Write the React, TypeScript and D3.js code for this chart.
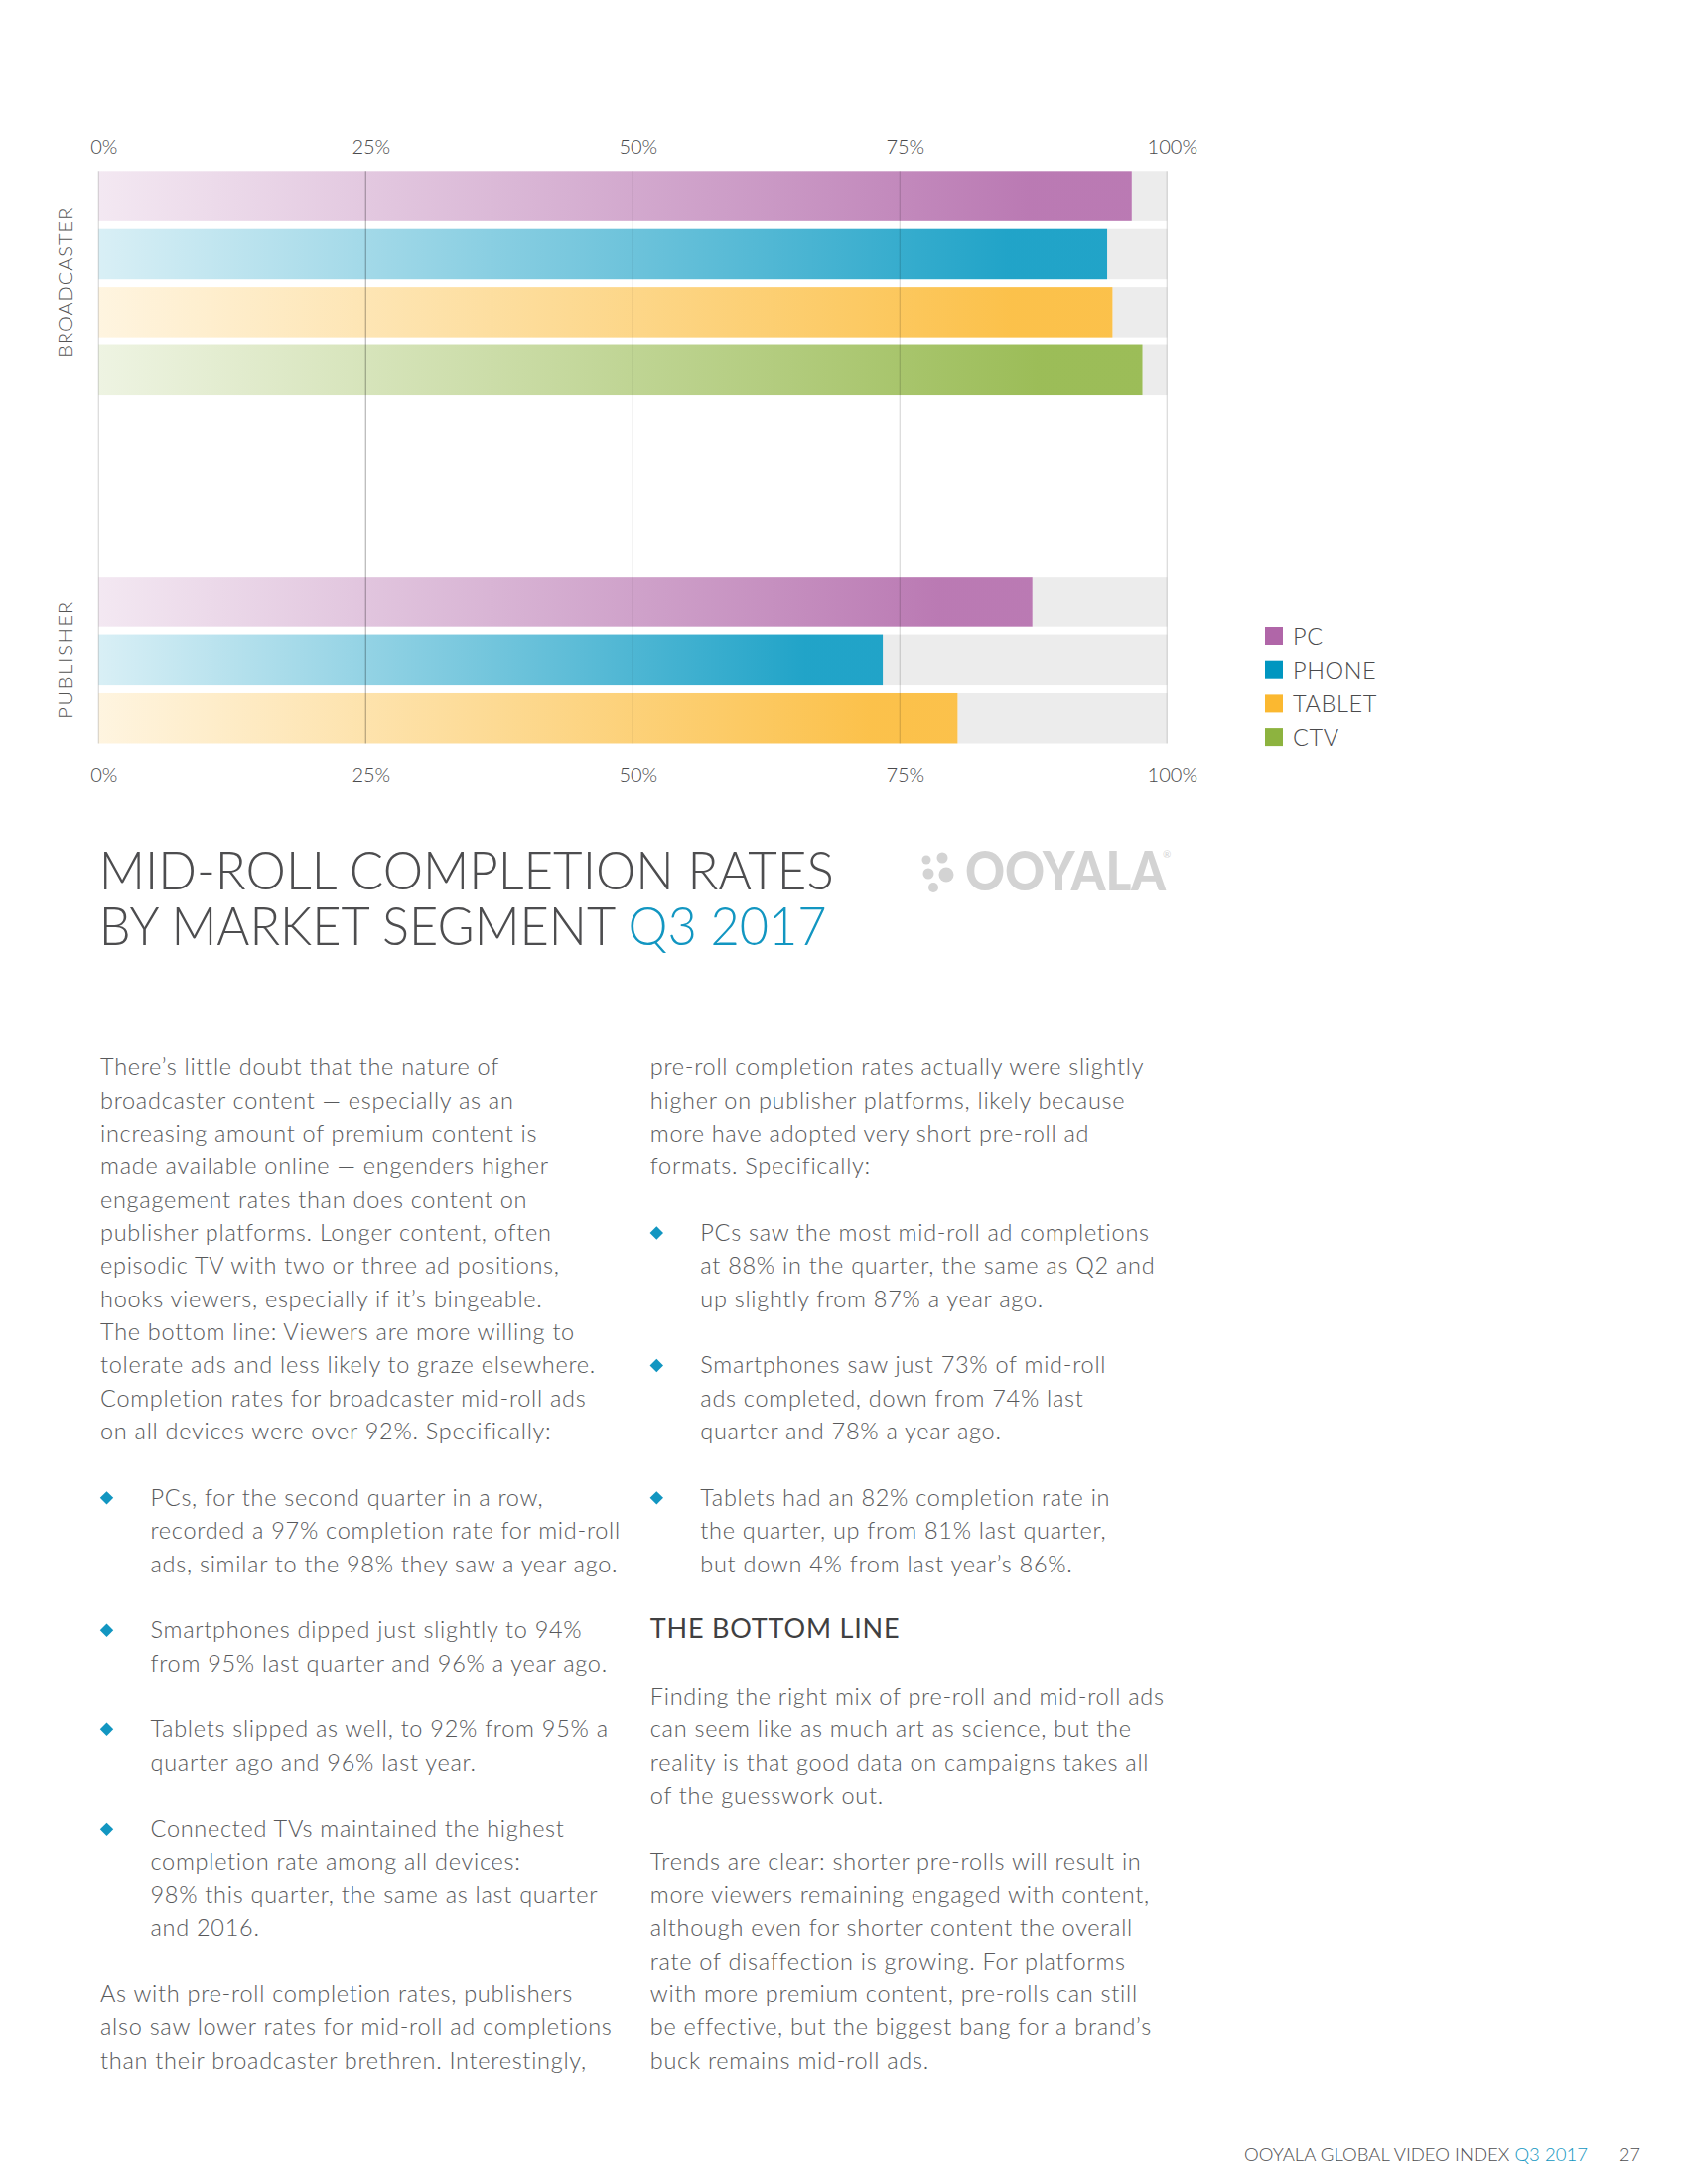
import { useEffect, useRef } from "react";
import * as d3 from "d3";

// ---- chart data ----
const devices = ["PC", "PHONE", "TABLET", "CTV"];
const deviceColors = ["#b066a8", "#0096c0", "#fbb830", "#8db33f"];
const segments = ["BROADCASTER", "PUBLISHER"];
const broadcasterRates = [96.7, 94.4, 94.9, 97.7];
const publisherRates = [87.4, 73.4, 80.4];
const tickValues = [0, 25, 50, 75, 100];

// ---- page text ----
const titleLine1 = "MID-ROLL COMPLETION RATES";
const titleLine2 = "BY MARKET SEGMENT ";
const titleAccent = "Q3 2017";
const footerText = "OOYALA GLOBAL VIDEO INDEX ";
const footerAccent = "Q3 2017";
const pageNumber = "27";

// kind: p = paragraph, b = bullet, i = bullet continuation, h = heading, "" = blank
const leftColumn: [string, string][] = [
  ["p", "There’s little doubt that the nature of"],
  ["p", "broadcaster content — especially as an"],
  ["p", "increasing amount of premium content is"],
  ["p", "made available online — engenders higher"],
  ["p", "engagement rates than does content on"],
  ["p", "publisher platforms. Longer content, often"],
  ["p", "episodic TV with two or three ad positions,"],
  ["p", "hooks viewers, especially if it’s bingeable."],
  ["p", "The bottom line: Viewers are more willing to"],
  ["p", "tolerate ads and less likely to graze elsewhere."],
  ["p", "Completion rates for broadcaster mid-roll ads"],
  ["p", "on all devices were over 92%. Specifically:"],
  ["", ""],
  ["b", "PCs, for the second quarter in a row,"],
  ["i", "recorded a 97% completion rate for mid-roll"],
  ["i", "ads, similar to the 98% they saw a year ago."],
  ["", ""],
  ["b", "Smartphones dipped just slightly to 94%"],
  ["i", "from 95% last quarter and 96% a year ago."],
  ["", ""],
  ["b", "Tablets slipped as well, to 92% from 95% a"],
  ["i", "quarter ago and 96% last year."],
  ["", ""],
  ["b", "Connected TVs maintained the highest"],
  ["i", "completion rate among all devices:"],
  ["i", "98% this quarter, the same as last quarter"],
  ["i", "and 2016."],
  ["", ""],
  ["p", "As with pre-roll completion rates, publishers"],
  ["p", "also saw lower rates for mid-roll ad completions"],
  ["p", "than their broadcaster brethren. Interestingly,"],
];

const rightColumn: [string, string][] = [
  ["p", "pre-roll completion rates actually were slightly"],
  ["p", "higher on publisher platforms, likely because"],
  ["p", "more have adopted very short pre-roll ad"],
  ["p", "formats. Specifically:"],
  ["", ""],
  ["b", "PCs saw the most mid-roll ad completions"],
  ["i", "at 88% in the quarter, the same as Q2 and"],
  ["i", "up slightly from 87% a year ago."],
  ["", ""],
  ["b", "Smartphones saw just 73% of mid-roll"],
  ["i", "ads completed, down from 74% last"],
  ["i", "quarter and 78% a year ago."],
  ["", ""],
  ["b", "Tablets had an 82% completion rate in"],
  ["i", "the quarter, up from 81% last quarter,"],
  ["i", "but down 4% from last year’s 86%."],
  ["", ""],
  ["h", "THE BOTTOM LINE"],
  ["", ""],
  ["p", "Finding the right mix of pre-roll and mid-roll ads"],
  ["p", "can seem like as much art as science, but the"],
  ["p", "reality is that good data on campaigns takes all"],
  ["p", "of the guesswork out."],
  ["", ""],
  ["p", "Trends are clear: shorter pre-rolls will result in"],
  ["p", "more viewers remaining engaged with content,"],
  ["p", "although even for shorter content the overall"],
  ["p", "rate of disaffection is growing.  For platforms"],
  ["p", "with more premium content, pre-rolls can still"],
  ["p", "be effective, but the biggest bang for a brand’s"],
  ["p", "buck remains mid-roll ads."],
];

export default function App() {
  const svgRef = useRef<SVGSVGElement>(null);

  useEffect(() => {
    if (!svgRef.current) return;
    const svg = d3.select(svgRef.current);
    svg.selectAll("*").remove();

    const font = "Lato, 'Open Sans', sans-serif";
    const textColor = "#58595b";
    const darkText = "#4d4d4f";
    const blue = "#1296c1";

    // Scales
    const x = d3.scaleLinear().domain([0, 100]).range([99.3, 1175.3]);
    const y = d3
      .scaleBand<number>()
      .domain(d3.range(10))
      .range([172.3, 748.5])
      .paddingInner(0.135);
    const segmentStart = [0, 7]; // first slot of each segment

    const rows = [
      ...broadcasterRates.map((v, i) => ({ device: i, value: v, slot: segmentStart[0] + i })),
      ...publisherRates.map((v, i) => ({ device: i, value: v, slot: segmentStart[1] + i })),
    ];

    // Gradients, light at the left and full at the bar end
    const defs = svg.append("defs");
    deviceColors.forEach((c, i) => {
      const g = defs
        .append("linearGradient")
        .attr("id", `bar-grad-${i}`)
        .attr("x1", 0)
        .attr("x2", 1)
        .attr("y1", 0)
        .attr("y2", 0);
      g.append("stop").attr("offset", 0).attr("stop-color", c).attr("stop-opacity", 0.15);
      g.append("stop").attr("offset", 0.9).attr("stop-color", c).attr("stop-opacity", 0.87);
      g.append("stop").attr("offset", 1).attr("stop-color", c).attr("stop-opacity", 0.87);
    });

    // Grey remainder track
    svg
      .append("g")
      .selectAll("rect")
      .data(rows)
      .join("rect")
      .attr("x", d => x(d.value))
      .attr("width", d => x(100) - x(d.value))
      .attr("y", d => y(d.slot)!)
      .attr("height", y.bandwidth())
      .attr("fill", "#ececec");

    // Bars
    svg
      .append("g")
      .selectAll("rect")
      .data(rows)
      .join("rect")
      .attr("x", x(0))
      .attr("width", d => x(d.value) - x(0))
      .attr("y", d => y(d.slot)!)
      .attr("height", y.bandwidth())
      .attr("fill", d => `url(#bar-grad-${d.device})`);

    // Grid lines over the bars
    svg
      .append("g")
      .selectAll("line")
      .data(tickValues)
      .join("line")
      .attr("x1", d => x(d))
      .attr("x2", d => x(d))
      .attr("y1", y(0)!)
      .attr("y2", y(9)! + y.bandwidth())
      .attr("stroke", "#000")
      .attr("stroke-opacity", d => (d === 25 ? 0.27 : 0.14))
      .attr("stroke-width", 1.3);

    // Top and bottom tick labels
    [155.3, 788.3].forEach(base => {
      const axis = svg
        .append("g")
        .attr("transform", `translate(0,${base})`)
        .call(
          d3
            .axisTop(x)
            .tickValues(tickValues)
            .tickSize(0)
            .tickPadding(0)
            .tickFormat(d => `${d}%`)
        );
      axis.select(".domain").remove();
      axis
        .selectAll("text")
        .attr("dx", 5)
        .attr("dy", 0)
        .attr("font-family", font)
        .attr("font-weight", 300)
        .attr("font-size", 20)
        .attr("fill", "#4a4a4c");
    });

    // Segment labels, rotated
    const segLengths = [151, 118];
    segments.forEach((s, i) => {
      const n = i === 0 ? broadcasterRates.length : publisherRates.length;
      const top = y(segmentStart[i])!;
      const bottom = y(segmentStart[i] + n - 1)! + y.bandwidth();
      svg
        .append("text")
        .attr("transform", `translate(72.5,${(top + bottom) / 2}) rotate(-90)`)
        .attr("text-anchor", "middle")
        .attr("font-family", font)
        .attr("font-weight", 300)
        .attr("font-size", 20)
        .attr("fill", "#555")
        .attr("textLength", segLengths[i])
        .text(s);
    });

    // Legend
    const legend = svg.append("g").attr("transform", "translate(1274,632)");
    devices.forEach((dName, i) => {
      const item = legend.append("g").attr("transform", `translate(0,${i * 33.7})`);
      item.append("rect").attr("width", 18).attr("height", 18).attr("fill", deviceColors[i]);
      item
        .append("text")
        .attr("x", 28)
        .attr("y", 18)
        .attr("font-family", font)
        .attr("font-weight", 300)
        .attr("font-size", 23.5)
        .attr("letter-spacing", 0.6)
        .attr("fill", "#4a4a4c")
        .text(dName);
    });

    // Title
    svg
      .append("text")
      .attr("x", 99.7)
      .attr("y", 896)
      .attr("font-family", font)
      .attr("font-weight", 300)
      .attr("font-size", 53)
      .attr("fill", darkText)
      .attr("textLength", 740)
      .attr("lengthAdjust", "spacingAndGlyphs")
      .text(titleLine1);
    const t2 = svg
      .append("text")
      .attr("x", 99.7)
      .attr("y", 952)
      .attr("font-family", font)
      .attr("font-weight", 300)
      .attr("font-size", 53)
      .attr("fill", darkText)
      .attr("textLength", 733)
      .attr("lengthAdjust", "spacingAndGlyphs");
    t2.append("tspan").text(titleLine2);
    t2.append("tspan").attr("fill", blue).text(titleAccent);

    // Logo
    const logo = svg.append("g").attr("fill", "#d3d3d3");
    const dots: [number, number, number][] = [
      [933, 866, 4.5],
      [949, 864, 5.5],
      [935, 880, 5.5],
      [953, 881, 7.5],
      [940, 894, 5],
    ];
    logo
      .selectAll("circle")
      .data(dots)
      .join("circle")
      .attr("cx", d => d[0])
      .attr("cy", d => d[1])
      .attr("r", d => d[2]);
    logo
      .append("text")
      .attr("x", 972)
      .attr("y", 897)
      .attr("font-family", font)
      .attr("font-weight", 900)
      .attr("font-size", 55)
      .attr("textLength", 202)
      .attr("lengthAdjust", "spacingAndGlyphs")
      .text("OOYALA");
    logo
      .append("text")
      .attr("x", 1171)
      .attr("y", 864)
      .attr("font-family", font)
      .attr("font-size", 10)
      .text("®");

    // Body columns
    const lineStart = 1083.3;
    const lineStep = 33.35;
    const drawColumn = (lines: [string, string][], colX: number) => {
      const g = svg.append("g");
      lines.forEach(([kind, text], i) => {
        if (!kind) return;
        const base = lineStart + i * lineStep;
        if (kind === "b") {
          g.append("path")
            .attr("d", d3.symbol(d3.symbolSquare, 90)()!)
            .attr("transform", `translate(${colX + 6.5},${base - 8}) rotate(45)`)
            .attr("fill", blue);
        }
        g.append("text")
          .attr("x", kind === "b" || kind === "i" ? colX + 50.5 : colX)
          .attr("y", base)
          .attr("font-family", font)
          .attr("font-weight", kind === "h" ? 400 : 300)
          .attr("font-size", kind === "h" ? 27 : 23.5)
          .attr("letter-spacing", kind === "h" ? 0.8 : 0.72)
          .attr("fill", kind === "h" ? "#404041" : textColor)
          .text(text);
      });
    };
    drawColumn(leftColumn, 101);
    drawColumn(rightColumn, 654.8);

    // Footer
    const foot = svg
      .append("text")
      .attr("x", 1253)
      .attr("y", 2177)
      .attr("font-family", font)
      .attr("font-weight", 300)
      .attr("font-size", 17)
      .attr("fill", darkText)
      .attr("textLength", 346)
      .attr("lengthAdjust", "spacingAndGlyphs");
    foot.append("tspan").text(footerText);
    foot.append("tspan").attr("fill", blue).text(footerAccent);
    svg
      .append("text")
      .attr("x", 1631)
      .attr("y", 2177)
      .attr("font-family", font)
      .attr("font-weight", 300)
      .attr("font-size", 18)
      .attr("fill", darkText)
      .text(pageNumber);
  }, []);

  return (
    <svg
      ref={svgRef}
      width={1700}
      height={2200}
      viewBox="0 0 1700 2200"
      style={{ position: "absolute", left: 0, top: 0, background: "#fff" }}
    />
  );
}
